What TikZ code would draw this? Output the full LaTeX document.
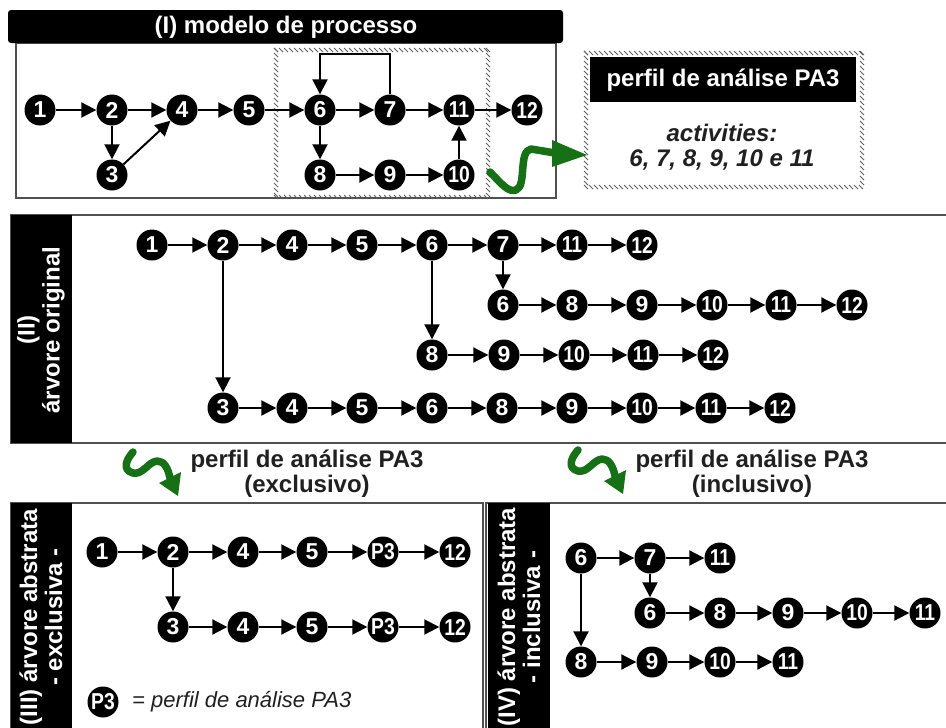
\documentclass[tikz,border=0pt]{standalone}
\usepackage{fontspec}
\usepackage{graphicx}
\setmainfont{Liberation Sans}
\usetikzlibrary{arrows.meta}
\definecolor{bord}{HTML}{505050}
\definecolor{grn}{RGB}{22,112,22}
\definecolor{txt}{HTML}{202020}
\newcommand\tw[1]{\scalebox{0.84}[1]{#1}}
\begin{document}
\begin{tikzpicture}[x=1pt,y=-1pt,
  nd/.style={circle,fill=black,minimum size=31pt,inner sep=0pt,text=white,font=\fontsize{23}{23}\selectfont\bfseries},
  ar/.style={-{Triangle[length=15pt,width=15pt]},line width=2pt},
  bline/.style={draw=bord,line width=1.5pt},
  hatch/.style={draw=bord!90,line width=0.8pt},
  bar/.style={fill=black},
  ttl/.style={text=white,font=\fontsize{24}{25}\selectfont\bfseries,align=center,inner sep=0pt},
  head/.style={text=txt,font=\fontsize{24}{25}\selectfont\bfseries,align=center,inner sep=0pt},
  grs/.style={draw=grn,line width=7.5pt,line cap=round,line join=round}]
\useasboundingbox (0,0) rectangle (946,728);
\clip (0,0) rectangle (946,728);
\fill[white] (0,0) rectangle (946,728);

% ---------- Panel I ----------
\draw[bline] (16,43) rectangle (556,198);
\fill[bar,rounded corners=3pt] (8,10) rectangle (563,43);
\node[ttl] (ttlI) at (286,27) {(I) modelo de processo};
% hatched rectangle
\foreach \t in {276,281,...,488} \draw[hatch] (\t-2,48)--(\t+2,52) (\t-2,195)--(\t+2,199);
\foreach \t in {50,55,...,197} \draw[hatch] (274,\t-2)--(278,\t+2) (486,\t-2)--(490,\t+2);

\node[nd] (t1) at (40,110) {1};
\node[nd] (t2) at (112,110) {2};
\node[nd] (t3) at (112,175) {3};
\node[nd] (t4) at (182,110) {4};
\node[nd] (t5) at (249,110) {5};
\node[nd] (t6) at (320,110) {6};
\node[nd] (t7) at (390,110) {7};
\node[nd] (t11) at (459,110) {\tw{11}};
\node[nd] (t12) at (527,110) {\tw{12}};
\node[nd] (t8) at (320,175) {8};
\node[nd] (t9) at (390,175) {9};
\node[nd] (t10) at (459,175) {\tw{10}};
\draw[ar] (t1)--(t2);
\draw[ar] (t2)--(t4);
\draw[ar] (t2)--(t3);
\draw[ar] (t3)--(t4);
\draw[ar] (t4)--(t5);
\draw[ar] (t5)--(t6);
\draw[ar] (t6)--(t7);
\draw[ar] (t7)--(t11);
\draw[ar] (t11)--(t12);
\draw[ar] (t6)--(t8);
\draw[ar] (t8)--(t9);
\draw[ar] (t9)--(t10);
\draw[ar] (t10)--(t11);
\draw[ar] (t7.north) -- ++(0,-40) -| (t6.north);

% green S arrow (top)
\draw[grs] (490,172) .. controls (500,182) and (508,193) .. (516,190) .. controls (527,186) and (518,151) .. (531,149) -- (555,153);
\fill[grn] (552,140) -- (587,155) -- (552,167) -- cycle;

% PA3 box
\foreach \t in {586,591,...,862} \draw[hatch] (\t-2,51)--(\t+2,55) (\t-2,185)--(\t+2,189);
\foreach \t in {53,58,...,187} \draw[hatch] (584,\t-2)--(588,\t+2) (860,\t-2)--(864,\t+2);
\fill[bar] (590,57) rectangle (856,102);
\node[ttl] (pa3t) at (723,80) {perfil de análise PA3};
\node[text=txt,font=\fontsize{24}{25}\selectfont\bfseries\itshape,align=center,inner sep=0pt] (acts) at (722,147) {activities:\\6, 7, 8, 9, 10 e 11};

% ---------- Panel II ----------
\draw[bline] (11,215) rectangle (960,443);
\fill[bar] (11,215) rectangle (72,443);
\node[ttl,rotate=90] (lblII) at (41,330) {(II)\\árvore original};

\node[nd] (a1) at (152,245) {1};
\node[nd] (a2) at (223,245) {2};
\node[nd] (a4) at (292,245) {4};
\node[nd] (a5) at (362,245) {5};
\node[nd] (a6) at (432,245) {6};
\node[nd] (a7) at (503,245) {7};
\node[nd] (a11) at (572,245) {\tw{11}};
\node[nd] (a12) at (642,245) {\tw{12}};
\node[nd] (b6) at (503,305) {6};
\node[nd] (b8) at (572,305) {8};
\node[nd] (b9) at (642,305) {9};
\node[nd] (b10) at (712,305) {\tw{10}};
\node[nd] (b11) at (781,305) {\tw{11}};
\node[nd] (b12) at (852,305) {\tw{12}};
\node[nd] (c8) at (432,355) {8};
\node[nd] (c9) at (504,355) {9};
\node[nd] (c10) at (574,355) {\tw{10}};
\node[nd] (c11) at (643,355) {\tw{11}};
\node[nd] (c12) at (713,355) {\tw{12}};
\node[nd] (d3) at (223,408) {3};
\node[nd] (d4) at (292,408) {4};
\node[nd] (d5) at (362,408) {5};
\node[nd] (d6) at (432,408) {6};
\node[nd] (d8) at (502,408) {8};
\node[nd] (d9) at (572,408) {9};
\node[nd] (d10) at (642,408) {\tw{10}};
\node[nd] (d11) at (711,408) {\tw{11}};
\node[nd] (d12) at (780,408) {\tw{12}};
\foreach \u/\v in {a1/a2,a2/a4,a4/a5,a5/a6,a6/a7,a7/a11,a11/a12,a7/b6,b6/b8,b8/b9,b9/b10,b10/b11,b11/b12,a6/c8,c8/c9,c9/c10,c10/c11,c11/c12,a2/d3,d3/d4,d4/d5,d5/d6,d6/d8,d8/d9,d9/d10,d10/d11,d11/d12}
  \draw[ar] (\u)--(\v);

% ---------- headings with green arrows ----------
\draw[grs] (133,452) .. controls (126,460) and (122,470) .. (133,473) .. controls (143,475) and (148,462) .. (157,461) .. controls (164,461) and (168,468) .. (170,478);
\fill[grn] (159,483) -- (181,472) -- (178,496) -- cycle;
\begin{scope}[shift={(445,-2)}]
\draw[grs] (133,452) .. controls (126,460) and (122,470) .. (133,473) .. controls (143,475) and (148,462) .. (157,461) .. controls (164,461) and (168,468) .. (170,478);
\fill[grn] (159,483) -- (181,472) -- (178,496) -- cycle;
\end{scope}
\node[head] (hexc) at (307,474) {perfil de análise PA3\\(exclusivo)};
\node[head] (hinc) at (752,474) {perfil de análise PA3\\(inclusivo)};

% ---------- Panel III ----------
\draw[bline] (11,503) rectangle (483,745);
\fill[bar] (11,503) rectangle (72,745);
\node[ttl,rotate=90] (lblIII) at (41,617) {(III) árvore abstrata\\- exclusiva -};
\node[nd] (e1) at (102,552) {1};
\node[nd] (e2) at (173,552) {2};
\node[nd] (e4) at (243,552) {4};
\node[nd] (e5) at (312,552) {5};
\node[nd] (eP) at (383,552) {\tw{P3}};
\node[nd] (e12) at (455,552) {\tw{12}};
\node[nd] (f3) at (173,627) {3};
\node[nd] (f4) at (243,627) {4};
\node[nd] (f5) at (312,627) {5};
\node[nd] (fP) at (383,627) {\tw{P3}};
\node[nd] (f12) at (455,627) {\tw{12}};
\foreach \u/\v in {e1/e2,e2/e4,e4/e5,e5/eP,eP/e12,e2/f3,f3/f4,f4/f5,f5/fP,fP/f12}
  \draw[ar] (\u)--(\v);
\node[nd] (legP) at (103,702) {\tw{P3}};
\node[anchor=west,inner sep=0pt,text=txt,font=\fontsize{22}{22}\selectfont\itshape] (legT) at (132,702) {= perfil de análise PA3};

% ---------- Panel IV ----------
\draw[bline] (486,503) rectangle (960,745);
\fill[bar] (488,503) rectangle (550,745);
\node[ttl,rotate=90] (lblIV) at (519,617) {(IV) árvore abstrata\\- inclusiva -};
\node[nd] (g6) at (581,558) {6};
\node[nd] (g7) at (650,558) {7};
\node[nd] (g11) at (720,558) {\tw{11}};
\node[nd] (h6) at (650,613) {6};
\node[nd] (h8) at (720,613) {8};
\node[nd] (h9) at (788,613) {9};
\node[nd] (h10) at (857,613) {\tw{10}};
\node[nd] (h11) at (925,613) {\tw{11}};
\node[nd] (i8) at (581,662) {8};
\node[nd] (i9) at (652,662) {9};
\node[nd] (i10) at (720,662) {\tw{10}};
\node[nd] (i11) at (788,662) {\tw{11}};
\foreach \u/\v in {g6/g7,g7/g11,g7/h6,h6/h8,h8/h9,h9/h10,h10/h11,g6/i8,i8/i9,i9/i10,i10/i11}
  \draw[ar] (\u)--(\v);
\end{tikzpicture}
\end{document}
